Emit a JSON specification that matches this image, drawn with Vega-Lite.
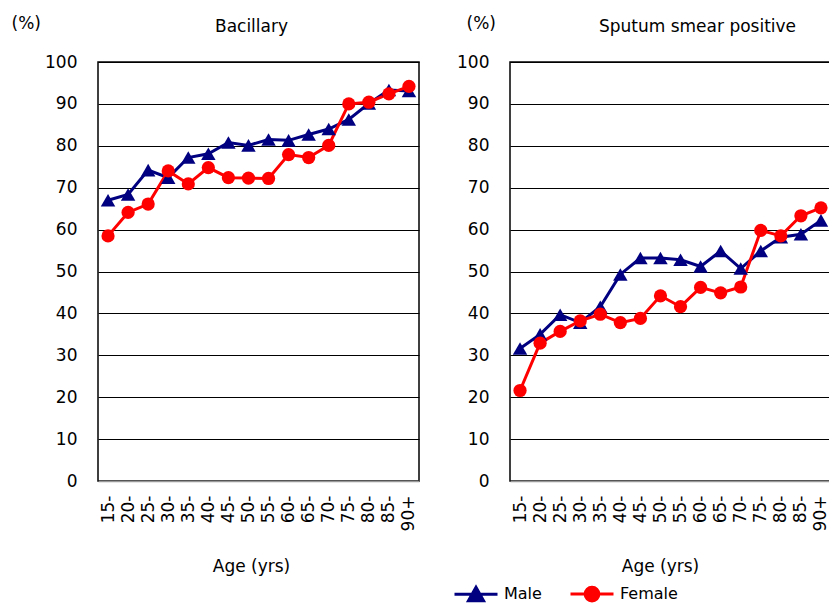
{
  "$schema": "https://vega.github.io/schema/vega-lite/v6.json",
  "padding": {"left": 10, "top": 13, "right": 0, "bottom": 0},
  "data": {"values": [
    {"panel": "B", "sex": "Male", "age": "15-", "value": 67.0},
    {"panel": "B", "sex": "Male", "age": "20-", "value": 68.4},
    {"panel": "B", "sex": "Male", "age": "25-", "value": 74.2},
    {"panel": "B", "sex": "Male", "age": "30-", "value": 72.4},
    {"panel": "B", "sex": "Male", "age": "35-", "value": 77.2},
    {"panel": "B", "sex": "Male", "age": "40-", "value": 78.1},
    {"panel": "B", "sex": "Male", "age": "45-", "value": 80.8},
    {"panel": "B", "sex": "Male", "age": "50-", "value": 80.1},
    {"panel": "B", "sex": "Male", "age": "55-", "value": 81.5},
    {"panel": "B", "sex": "Male", "age": "60-", "value": 81.3},
    {"panel": "B", "sex": "Male", "age": "65-", "value": 82.7},
    {"panel": "B", "sex": "Male", "age": "70-", "value": 84.0},
    {"panel": "B", "sex": "Male", "age": "75-", "value": 86.3},
    {"panel": "B", "sex": "Male", "age": "80-", "value": 90.1},
    {"panel": "B", "sex": "Male", "age": "85-", "value": 93.3},
    {"panel": "B", "sex": "Male", "age": "90+", "value": 93.1},
    {"panel": "B", "sex": "Female", "age": "15-", "value": 58.5},
    {"panel": "B", "sex": "Female", "age": "20-", "value": 64.1},
    {"panel": "B", "sex": "Female", "age": "25-", "value": 66.1},
    {"panel": "B", "sex": "Female", "age": "30-", "value": 74.0},
    {"panel": "B", "sex": "Female", "age": "35-", "value": 70.9},
    {"panel": "B", "sex": "Female", "age": "40-", "value": 74.8},
    {"panel": "B", "sex": "Female", "age": "45-", "value": 72.4},
    {"panel": "B", "sex": "Female", "age": "50-", "value": 72.3},
    {"panel": "B", "sex": "Female", "age": "55-", "value": 72.2},
    {"panel": "B", "sex": "Female", "age": "60-", "value": 77.9},
    {"panel": "B", "sex": "Female", "age": "65-", "value": 77.2},
    {"panel": "B", "sex": "Female", "age": "70-", "value": 80.1},
    {"panel": "B", "sex": "Female", "age": "75-", "value": 90.0},
    {"panel": "B", "sex": "Female", "age": "80-", "value": 90.4},
    {"panel": "B", "sex": "Female", "age": "85-", "value": 92.4},
    {"panel": "B", "sex": "Female", "age": "90+", "value": 94.2},
    {"panel": "S", "sex": "Male", "age": "15-", "value": 31.6},
    {"panel": "S", "sex": "Male", "age": "20-", "value": 35.0},
    {"panel": "S", "sex": "Male", "age": "25-", "value": 39.7},
    {"panel": "S", "sex": "Male", "age": "30-", "value": 37.8},
    {"panel": "S", "sex": "Male", "age": "35-", "value": 41.6},
    {"panel": "S", "sex": "Male", "age": "40-", "value": 49.3},
    {"panel": "S", "sex": "Male", "age": "45-", "value": 53.2},
    {"panel": "S", "sex": "Male", "age": "50-", "value": 53.2},
    {"panel": "S", "sex": "Male", "age": "55-", "value": 52.8},
    {"panel": "S", "sex": "Male", "age": "60-", "value": 51.2},
    {"panel": "S", "sex": "Male", "age": "65-", "value": 54.9},
    {"panel": "S", "sex": "Male", "age": "70-", "value": 50.7},
    {"panel": "S", "sex": "Male", "age": "75-", "value": 54.9},
    {"panel": "S", "sex": "Male", "age": "80-", "value": 58.2},
    {"panel": "S", "sex": "Male", "age": "85-", "value": 58.9},
    {"panel": "S", "sex": "Male", "age": "90+", "value": 62.2},
    {"panel": "S", "sex": "Female", "age": "15-", "value": 21.6},
    {"panel": "S", "sex": "Female", "age": "20-", "value": 32.9},
    {"panel": "S", "sex": "Female", "age": "25-", "value": 35.7},
    {"panel": "S", "sex": "Female", "age": "30-", "value": 38.2},
    {"panel": "S", "sex": "Female", "age": "35-", "value": 39.8},
    {"panel": "S", "sex": "Female", "age": "40-", "value": 37.8},
    {"panel": "S", "sex": "Female", "age": "45-", "value": 38.8},
    {"panel": "S", "sex": "Female", "age": "50-", "value": 44.2},
    {"panel": "S", "sex": "Female", "age": "55-", "value": 41.6},
    {"panel": "S", "sex": "Female", "age": "60-", "value": 46.2},
    {"panel": "S", "sex": "Female", "age": "65-", "value": 44.9},
    {"panel": "S", "sex": "Female", "age": "70-", "value": 46.3},
    {"panel": "S", "sex": "Female", "age": "75-", "value": 59.8},
    {"panel": "S", "sex": "Female", "age": "80-", "value": 58.5},
    {"panel": "S", "sex": "Female", "age": "85-", "value": 63.3},
    {"panel": "S", "sex": "Female", "age": "90+", "value": 65.2}
  ]},
  "spacing": 35,
  "hconcat": [
    {
      "width": 321,
      "height": 419,
      "title": {"text": "Bacillary", "dx": -7, "baseline": "alphabetic", "offset": -35},
      "transform": [{"filter": "datum.panel === 'B'"}],
      "encoding": {
        "x": {"field": "age", "type": "ordinal", "sort": null,
          "axis": {"title": "Age (yrs)", "titleX": 153, "titleY": 85, "titleBaseline": "middle", "titleAlign": "center"}},
        "y": {"field": "value", "type": "quantitative", "scale": {"domain": [0, 100]},
          "axis": {"title": "(%)", "titleX": -87, "titleY": -39}},
        "color": {"field": "sex", "type": "nominal", "sort": ["Male", "Female"],
          "scale": {"domain": ["Male", "Female"], "range": ["#000080", "#ff0000"]},
          "legend": {"title": null, "orient": "none", "legendX": 355, "legendY": 509, "direction": "horizontal",
            "symbolSize": 1849, "symbolStrokeWidth": 3, "labelFontSize": 16, "labelOffset": 5, "columnPadding": 22,
            "labelFont": "DejaVu Sans", "labelColor": "#000",
            "encode": {"symbols": {"update": {
              "shape": {"signal": "datum.value === 'Male' ? 'M-1,0H1M-0.35,0.3L0,-0.32L0.35,0.3Z' : 'M-1,0H1M0.32,0A0.32,0.32 0 1 1 -0.32,0A0.32,0.32 0 1 1 0.32,0Z'"},
              "fill": {"signal": "datum.value === 'Male' ? '#000080' : '#ff0000'"},
              "stroke": {"signal": "datum.value === 'Male' ? '#000080' : '#ff0000'"},
              "fillOpacity": {"value": 1}, "strokeOpacity": {"value": 1}, "opacity": {"value": 1},
              "strokeWidth": {"value": 3}}}}}}
      },
      "layer": [
        {"mark": {"type": "line", "strokeWidth": 3}},
        {"transform": [{"filter": "datum.sex === 'Male'"}],
          "mark": {"type": "point", "shape": "triangle-up", "filled": true, "size": 210, "opacity": 1}},
        {"transform": [{"filter": "datum.sex === 'Female'"}],
          "mark": {"type": "point", "shape": "circle", "filled": true, "size": 175, "opacity": 1}}
      ]
    },
    {
      "width": 321,
      "height": 419,
      "title": {"text": "Sputum smear positive", "dx": 27, "baseline": "alphabetic", "offset": -35},
      "transform": [{"filter": "datum.panel === 'S'"}],
      "encoding": {
        "x": {"field": "age", "type": "ordinal", "sort": null,
          "axis": {"title": "Age (yrs)", "titleX": 150, "titleY": 85, "titleBaseline": "middle", "titleAlign": "center"}},
        "y": {"field": "value", "type": "quantitative", "scale": {"domain": [0, 100]},
          "axis": {"title": "(%)", "titleX": -44, "titleY": -39}},
        "color": {"field": "sex", "type": "nominal", "sort": ["Male", "Female"],
          "scale": {"domain": ["Male", "Female"], "range": ["#000080", "#ff0000"]},
          "legend": {"title": null, "orient": "none", "legendX": 355, "legendY": 509, "direction": "horizontal",
            "symbolSize": 1849, "symbolStrokeWidth": 3, "labelFontSize": 16, "labelOffset": 5, "columnPadding": 22,
            "labelFont": "DejaVu Sans", "labelColor": "#000",
            "encode": {"symbols": {"update": {
              "shape": {"signal": "datum.value === 'Male' ? 'M-1,0H1M-0.35,0.3L0,-0.32L0.35,0.3Z' : 'M-1,0H1M0.32,0A0.32,0.32 0 1 1 -0.32,0A0.32,0.32 0 1 1 0.32,0Z'"},
              "fill": {"signal": "datum.value === 'Male' ? '#000080' : '#ff0000'"},
              "stroke": {"signal": "datum.value === 'Male' ? '#000080' : '#ff0000'"},
              "fillOpacity": {"value": 1}, "strokeOpacity": {"value": 1}, "opacity": {"value": 1},
              "strokeWidth": {"value": 3}}}}}}
      },
      "layer": [
        {"mark": {"type": "line", "strokeWidth": 3}},
        {"transform": [{"filter": "datum.sex === 'Male'"}],
          "mark": {"type": "point", "shape": "triangle-up", "filled": true, "size": 210, "opacity": 1}},
        {"transform": [{"filter": "datum.sex === 'Female'"}],
          "mark": {"type": "point", "shape": "circle", "filled": true, "size": 175, "opacity": 1}}
      ]
    }
  ],
  "config": {
    "font": "DejaVu Sans",
    "view": {"stroke": "#000", "strokeWidth": 1.5},
    "title": {"fontSize": 17, "fontWeight": "normal", "color": "#000", "font": "DejaVu Sans"},
    "axisX": {"labelAngle": -90, "labelFontSize": 17, "labelPadding": 14, "ticks": false, "domain": true, "domainColor": "#999", "domainWidth": 1.5, "grid": false,
      "labelColor": "#000", "titleFontSize": 17, "titleFontWeight": "normal", "titleColor": "#000"},
    "axisY": {"values": [0, 10, 20, 30, 40, 50, 60, 70, 80, 90, 100], "ticks": false, "domain": false, "grid": true, "gridColor": "#000", "gridWidth": 1.2, "gridOpacity": 1,
      "labelFontSize": 17, "labelPadding": 21, "labelColor": "#000", "titleAngle": 0, "titleAlign": "left", "titleBaseline": "middle",
      "titleFontSize": 17, "titleFontWeight": "normal", "titleColor": "#000"}
  }
}
